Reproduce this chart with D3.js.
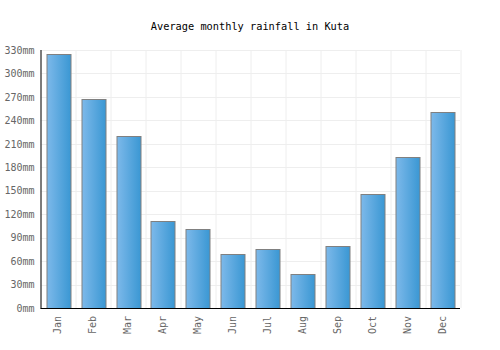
<!DOCTYPE html>
<html>
<head>
<meta charset="utf-8">
<script src="https://d3js.org/d3.v7.min.js"></script>
<style>
    body { margin: 0; background: #fff; }
    text { font-family: "DejaVu Sans Mono", monospace; }
    .grid line { stroke: #eeeeee; stroke-width: 1px; }
    .tick text { fill: #666; font-size: 10px; }
</style>
</head>
<body>
<svg id="chart" width="500" height="350"></svg>
<script>
    const months = ["Jan", "Feb", "Mar", "Apr", "May", "Jun", "Jul", "Aug", "Sep", "Oct", "Nov", "Dec"];
    const rainfall = [325, 267, 220, 111, 101, 69, 75, 44, 79, 146, 193, 251];
    const yTicks = [0, 30, 60, 90, 120, 150, 180, 210, 240, 270, 300, 330];

    const svg = d3.select("#chart");
    const margin = { top: 50, right: 40, bottom: 42, left: 40.5 };
    const w = 500 - margin.left - margin.right;
    const h = 350 - margin.top - margin.bottom;

    const defs = svg.append("defs");
    const grad = defs.append("linearGradient").attr("id", "barGrad")
        .attr("x1", "0%").attr("x2", "100%").attr("y1", "0%").attr("y2", "0%");
    grad.append("stop").attr("offset", "0%").attr("stop-color", "#7db9ea");
    grad.append("stop").attr("offset", "100%").attr("stop-color", "#3a97d3");

    svg.append("text")
        .attr("x", 250).attr("y", 30)
        .attr("text-anchor", "middle")
        .style("font-size", "10.3px")
        .attr("fill", "#000")
        .text("Average monthly rainfall in Kuta");

    const g = svg.append("g").attr("transform", `translate(${margin.left},${margin.top})`);

    const x = d3.scaleBand().domain(months).range([0, w]).paddingInner(0.32).paddingOuter(0.16);
    const xGrid = d3.scaleLinear().domain([0, months.length]).range([0, w]);
    const y = d3.scaleLinear().domain([0, 330]).range([h, 0]);

    // grid
    const grid = g.append("g").attr("class", "grid");
    grid.selectAll("line.h").data(yTicks).enter().append("line")
        .attr("x1", 0).attr("x2", w)
        .attr("y1", d => Math.round(y(d)) + 0.5).attr("y2", d => Math.round(y(d)) + 0.5);
    grid.selectAll("line.v").data(d3.range(months.length + 1)).enter().append("line")
        .attr("y1", 0).attr("y2", h)
        .attr("x1", d => Math.round(xGrid(d)) + 0.5).attr("x2", d => Math.round(xGrid(d)) + 0.5);

    // bars
    g.selectAll("rect.bar").data(rainfall).enter().append("rect")
        .attr("class", "bar")
        .attr("x", (d, i) => Math.round(x(months[i])) + 0.5)
        .attr("width", Math.round(x.bandwidth()))
        .attr("y", d => Math.round(y(d)) + 0.5)
        .attr("height", d => h - Math.round(y(d)))
        .attr("fill", "url(#barGrad)")
        .attr("stroke", "#808080")
        .attr("stroke-width", 1);

    // axes
    const yAxis = g.append("g")
        .call(d3.axisLeft(y).tickValues(yTicks).tickFormat(d => d + "mm").tickSize(0).tickPadding(6));
    yAxis.select(".domain").remove();

    const xAxis = g.append("g").attr("transform", `translate(0,${h})`)
        .call(d3.axisBottom(x).tickSize(0));
    xAxis.select(".domain").remove();
    xAxis.selectAll(".tick text")
        .attr("transform", "rotate(-90)")
        .attr("text-anchor", "end")
        .attr("x", -8).attr("y", 0).attr("dy", "0.35em");

    g.append("line").attr("x1", 0.5).attr("x2", 0.5).attr("y1", 0).attr("y2", h + 0.5)
        .attr("stroke", "#000");
    g.append("line").attr("x1", 0).attr("x2", w).attr("y1", h + 0.5).attr("y2", h + 0.5)
        .attr("stroke", "#000");
</script>
</body>
</html>
